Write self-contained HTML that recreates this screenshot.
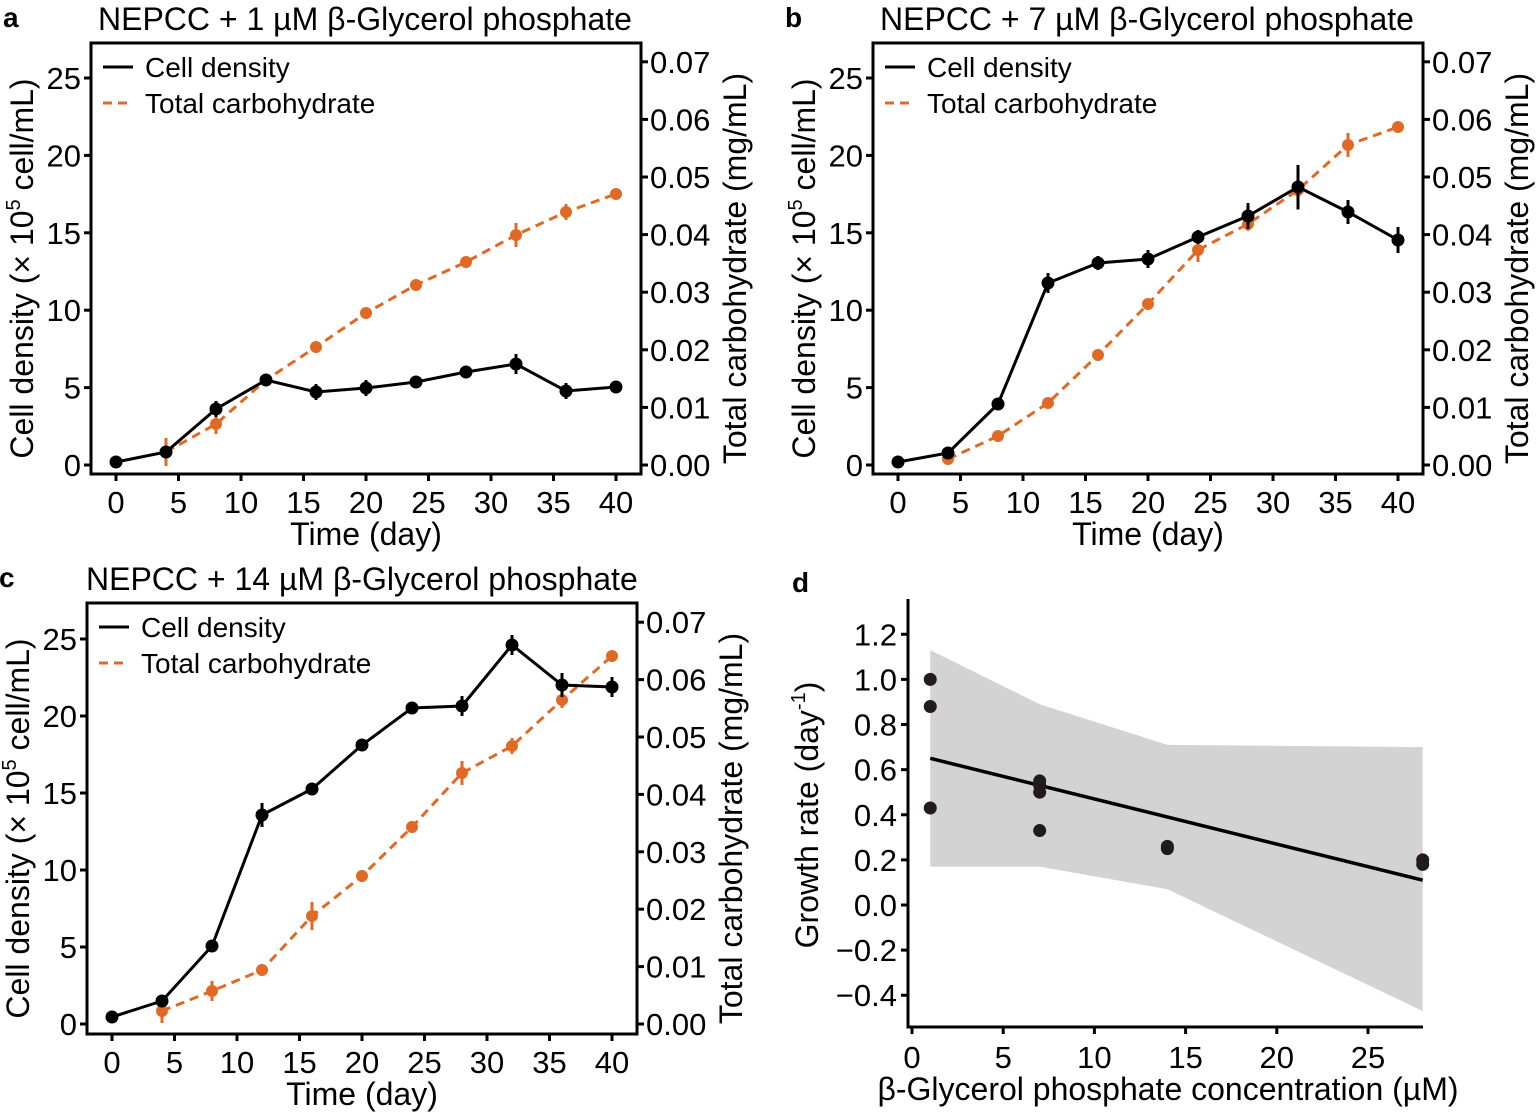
<!DOCTYPE html>
<html><head><meta charset="utf-8"><style>
body{margin:0;background:#fff}
svg{display:block;font-family:"Liberation Sans",Arial,sans-serif}
</style></head><body>
<svg id="s" width="1536" height="1112" viewBox="0 0 1536 1112" xmlns="http://www.w3.org/2000/svg"></svg>
<script>
const S=document.getElementById('s');let h='';
const OR='#e06a25';
function panel(o){
 const {L,R,T,B,x0,y0,ys,cy0,cs,title,letter,blk,org,ttlx}=o;
 h+=`<text x="${L-88}" y="${T-16}" font-size="28" font-weight="bold">${letter}</text>`;
 h+=`<text x="${ttlx}" y="${T-13}" font-size="32">${title}</text>`;
 const X=d=>x0+d*12.5;
 let p=blk.map(a=>`${X(a[0])},${a[1]}`).join(' ');
 let q=org.map(a=>`${X(a[0])},${a[1]}`).join(' ');
 h+=`<polyline points="${q}" fill="none" stroke="${OR}" stroke-width="3" stroke-dasharray="9,6"/>`;
 org.forEach(a=>{if(a[2])h+=`<line x1="${X(a[0])}" x2="${X(a[0])}" y1="${a[1]-a[2]}" y2="${a[1]+a[2]}" stroke="${OR}" stroke-width="3"/>`;h+=`<circle cx="${X(a[0])}" cy="${a[1]}" r="6" fill="${OR}"/>`;});
 h+=`<polyline points="${p}" fill="none" stroke="#000" stroke-width="3"/>`;
 blk.forEach(a=>{if(a[2])h+=`<line x1="${X(a[0])}" x2="${X(a[0])}" y1="${a[1]-a[2]}" y2="${a[1]+a[2]}" stroke="#000" stroke-width="3"/>`;h+=`<circle cx="${X(a[0])}" cy="${a[1]}" r="6.5" fill="#000"/>`;});
 h+=`<rect x="${L}" y="${T}" width="${R-L}" height="${B-T}" fill="none" stroke="#000" stroke-width="3"/>`;
 for(let d=0;d<=40;d+=5){h+=`<line x1="${X(d)}" x2="${X(d)}" y1="${B}" y2="${B+7}" stroke="#000" stroke-width="3"/><text x="${X(d)}" y="${B+39}" font-size="31" text-anchor="middle">${d}</text>`;}
 for(let v=0;v<=25;v+=5){const y=y0-v*ys;h+=`<line x1="${L-7}" x2="${L}" y1="${y}" y2="${y}" stroke="#000" stroke-width="3"/><text x="${L-10}" y="${y+11}" font-size="31" text-anchor="end">${v}</text>`;}
 for(let i=0;i<=7;i++){const y=cy0-i*cs;h+=`<line x1="${R}" x2="${R+7}" y1="${y}" y2="${y}" stroke="#000" stroke-width="3"/><text x="${R+9}" y="${y+11}" font-size="31">0.0${i}</text>`;}
 h+=`<text x="${(L+R)/2}" y="${B+71}" font-size="32" text-anchor="middle">Time (day)</text>`;
 h+=`<text transform="translate(${L-58},${(T+B)/2+10}) rotate(-90)" font-size="32" text-anchor="middle">Cell density (× 10<tspan font-size="20" dy="-13">5</tspan><tspan dy="13"> cell/mL)</tspan></text>`;
 h+=`<text transform="translate(${R+105},${(T+B)/2+10}) rotate(-90)" font-size="32" text-anchor="middle">Total carbohydrate (mg/mL)</text>`;
 h+=`<line x1="${L+12}" x2="${L+42}" y1="${T+24}" y2="${T+24}" stroke="#000" stroke-width="3"/><text x="${L+54}" y="${T+34}" font-size="28">Cell density</text>`;
 h+=`<line x1="${L+12}" x2="${L+42}" y1="${T+60}" y2="${T+60}" stroke="${OR}" stroke-width="3" stroke-dasharray="9,6"/><text x="${L+54}" y="${T+70}" font-size="28">Total carbohydrate</text>`;
}
panel({L:91,R:641,T:43,B:474,x0:116,y0:465,ys:15.48,cy0:465,cs:57.6,letter:'a',ttlx:98,title:'NEPCC + 1 µM β-Glycerol phosphate',
blk:[[0,462],[4,452],[8,409,8],[12,380],[16,392,8],[20,388,8],[24,382,6],[28,372],[32,364,10],[36,391,8],[40,387]],
org:[[4,452,14],[8,424,10],[12,380],[16,347],[20,313],[24,285],[28,262],[32,235,12],[36,212,8],[40,194]]});
panel({L:873,R:1423,T:43,B:474,x0:898,y0:465,ys:15.48,cy0:465,cs:57.6,letter:'b',ttlx:880,title:'NEPCC + 7 µM β-Glycerol phosphate',
blk:[[0,462],[4,453],[8,404],[12,283,10],[16,263,7],[20,259,9],[24,237,7],[28,216,13],[32,187,22],[36,212,12],[40,240,13]],
org:[[4,459],[8,436],[12,403],[16,355],[20,304,5],[24,250,12],[28,224,7],[32,190,20],[36,145,12],[40,127]]});
panel({L:87,R:637,T:603,B:1034,x0:112,y0:1024,ys:15.4,cy0:1024,cs:57.4,letter:'c',ttlx:86,title:'NEPCC + 14 µM β-Glycerol phosphate',
blk:[[0,1017],[4,1001,6],[8,946],[12,815,12],[16,789],[20,745],[24,708],[28,706,10],[32,645,10],[36,685,12],[40,687,10]],
org:[[4,1011,12],[8,991,10],[12,970],[16,916,14],[20,876,6],[24,827,6],[28,773,12],[32,746,8],[36,700,8],[40,656]]});
const DX=v=>912+v*18.24, DY=v=>905-v*225.6;
h+=`<text x="792" y="592" font-size="28" font-weight="bold">d</text>`;
const up=[[1,1.13],[7,0.89],[14,0.71],[28,0.70]],lo=[[28,-0.47],[14,0.07],[7,0.17],[1,0.17]];
h+=`<polygon points="${up.concat(lo).map(a=>DX(a[0])+','+DY(a[1])).join(' ')}" fill="#d3d3d3"/>`;
h+=`<line x1="${DX(1)}" y1="${DY(0.65)}" x2="${DX(28)}" y2="${DY(0.11)}" stroke="#000" stroke-width="3.5"/>`;
[[1,1.0],[1,0.88],[1,0.43],[7,0.55],[7,0.53],[7,0.50],[7,0.33],[14,0.26],[14,0.25],[28,0.2],[28,0.18]].forEach(a=>h+=`<circle cx="${DX(a[0])}" cy="${DY(a[1])}" r="6.5" fill="#231a1a"/>`);
h+=`<path d="M908,599 V1027 H1423" fill="none" stroke="#000" stroke-width="3"/>`;
for(let v=0;v<=25;v+=5)h+=`<line x1="${DX(v)}" x2="${DX(v)}" y1="1027" y2="1034" stroke="#000" stroke-width="3"/><text x="${DX(v)}" y="1068" font-size="31" text-anchor="middle">${v}</text>`;
for(let i=-2;i<=6;i++){const v=i*0.2,y=DY(v);h+=`<line x1="901" x2="908" y1="${y}" y2="${y}" stroke="#000" stroke-width="3"/><text x="897" y="${y+11}" font-size="31" text-anchor="end">${(v<0?'−':'')+Math.abs(v).toFixed(1)}</text>`;}
h+=`<text x="1168" y="1100" font-size="32" text-anchor="middle">β-Glycerol phosphate concentration (µM)</text>`;
h+=`<text transform="translate(818,815) rotate(-90)" font-size="32" text-anchor="middle">Growth rate (day<tspan font-size="20" dy="-13">-1</tspan><tspan dy="13">)</tspan></text>`;
S.innerHTML=h;
</script>
</body></html>
